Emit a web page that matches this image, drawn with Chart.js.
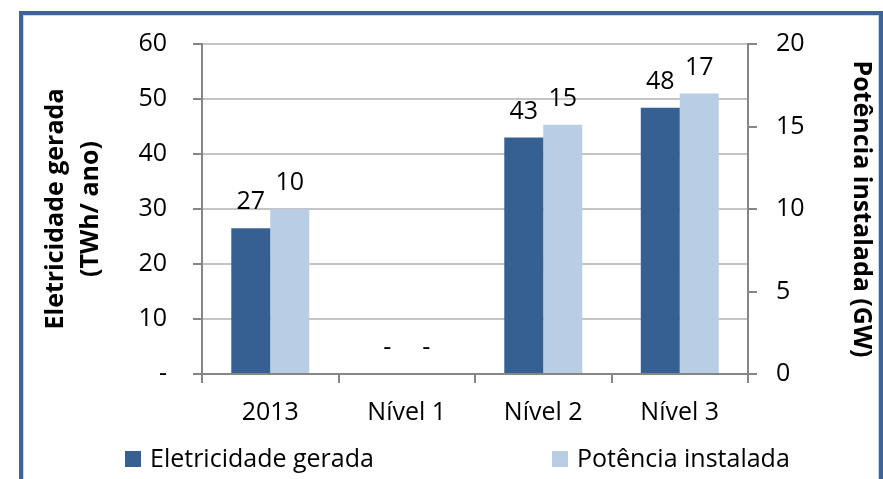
<!DOCTYPE html>
<html>
<head>
<meta charset="utf-8">
<script src="https://cdn.jsdelivr.net/npm/chart.js@4/dist/chart.umd.min.js"></script>
<style>
    html, body { margin: 0; padding: 0; background: #fff; }
    #wrap { position: relative; width: 883px; height: 479px; overflow: hidden; }
    #chart { position: absolute; left: 0; top: 0; }
    #frame {
        position: absolute; left: 19px; top: 11px; width: 864px; height: 500px;
        box-sizing: border-box; border: 4px solid #3d6494;
        box-shadow: inset 0 0 0 1px #c9d7ea; pointer-events: none;
    }
</style>
</head>
<body>
<div id="wrap">
    <canvas id="chart" width="883" height="479"></canvas>
    <div id="frame"></div>
</div>
<script>
// Chart data
const categories = ['2013', 'Nível 1', 'Nível 2', 'Nível 3'];
const eletricidadeGerada = [26.5, 0, 43.0, 48.4];   // TWh/ano (left axis)
const potenciaInstalada = [10.0, 0, 15.1, 17.0];    // GW (right axis)
const seriesNames = ['Eletricidade gerada', 'Potência instalada'];
const leftAxisTitle = ['Eletricidade gerada', '(TWh/ ano)'];
const rightAxisTitle = 'Potência instalada (GW)';

const FONT = '"Open Sans", Lato, sans-serif';
const AXIS_GRAY = '#868686';
const TEXT = '#000';

// Value labels above each bar ("-" for zero)
const valueLabels = {
    id: 'valueLabels',
    afterDatasetsDraw(chart) {
        const ctx = chart.ctx;
        ctx.save();
        ctx.font = `25px ${FONT}`;
        ctx.fillStyle = TEXT;
        ctx.textAlign = 'center';
        ctx.textBaseline = 'alphabetic';
        chart.data.datasets.forEach((ds, i) => {
            chart.getDatasetMeta(i).data.forEach((bar, j) => {
                const v = ds.data[j];
                const txt = v === 0 ? '-' : String(Math.round(v));
                ctx.fillText(txt, bar.x, bar.y - 19);
            });
        });
        ctx.restore();
    }
};

// Bottom legend, Excel style
const bottomLegend = {
    id: 'bottomLegend',
    afterDraw(chart) {
        const ctx = chart.ctx;
        const starts = [125, 552];
        const cy = 460;
        ctx.save();
        ctx.font = `25px ${FONT}`;
        ctx.textBaseline = 'middle';
        ctx.textAlign = 'left';
        chart.data.datasets.forEach((ds, i) => {
            ctx.fillStyle = ds.backgroundColor;
            ctx.fillRect(starts[i], cy - 9, 16, 16);
            ctx.fillStyle = TEXT;
            ctx.fillText(ds.label, starts[i] + 25, cy);
        });
        ctx.restore();
    }
};

new Chart(document.getElementById('chart'), {
    type: 'bar',
    data: {
        labels: categories,
        datasets: [
            {
                label: seriesNames[0],
                data: eletricidadeGerada,
                backgroundColor: '#366092',
                yAxisID: 'y',
                categoryPercentage: 0.571,
                barPercentage: 1
            },
            {
                label: seriesNames[1],
                data: potenciaInstalada,
                backgroundColor: '#b9cde5',
                yAxisID: 'y1',
                categoryPercentage: 0.571,
                barPercentage: 1
            }
        ]
    },
    options: {
        responsive: false,
        animation: false,
        layout: { padding: { top: 44, left: 0, right: 0, bottom: 0 } },
        plugins: {
            legend: { display: false },
            tooltip: { enabled: false }
        },
        scales: {
            x: {
                offset: true,
                grid: { offset: true, drawOnChartArea: false, tickLength: 9, color: AXIS_GRAY, lineWidth: 2 },
                border: { color: AXIS_GRAY, width: 2 },
                ticks: { color: TEXT, font: { family: FONT, size: 25 }, padding: 15 },
                afterFit: s => { s.height = 105; }
            },
            y: {
                position: 'left',
                min: 0,
                max: 60,
                ticks: {
                    stepSize: 10,
                    color: TEXT,
                    font: { family: FONT, size: 25 },
                    padding: 26,
                    callback: v => (v === 0 ? '-' : v)
                },
                grid: { color: '#c4c4c4', lineWidth: 2, tickLength: 9, tickColor: AXIS_GRAY },
                border: { color: AXIS_GRAY, width: 2 },
                title: {
                    display: true,
                    text: leftAxisTitle,
                    color: TEXT,
                    font: { family: FONT, size: 25, weight: 'bold', lineHeight: 35 / 25 },
                    padding: { top: 38, bottom: 0 }
                },
                afterFit: s => { s.width = 202; }
            },
            y1: {
                position: 'right',
                min: 0,
                max: 20,
                ticks: {
                    stepSize: 5,
                    color: TEXT,
                    font: { family: FONT, size: 25 },
                    padding: 19
                },
                grid: { drawOnChartArea: false, tickLength: 9, color: AXIS_GRAY, lineWidth: 2 },
                border: { color: AXIS_GRAY, width: 2 },
                title: {
                    display: true,
                    text: rightAxisTitle,
                    color: TEXT,
                    font: { family: FONT, size: 25, weight: 'bold', lineHeight: 1.2 },
                    padding: { top: 7, bottom: 0 }
                },
                afterFit: s => { s.width = 135; }
            }
        }
    },
    plugins: [valueLabels, bottomLegend]
});
</script>
</body>
</html>
